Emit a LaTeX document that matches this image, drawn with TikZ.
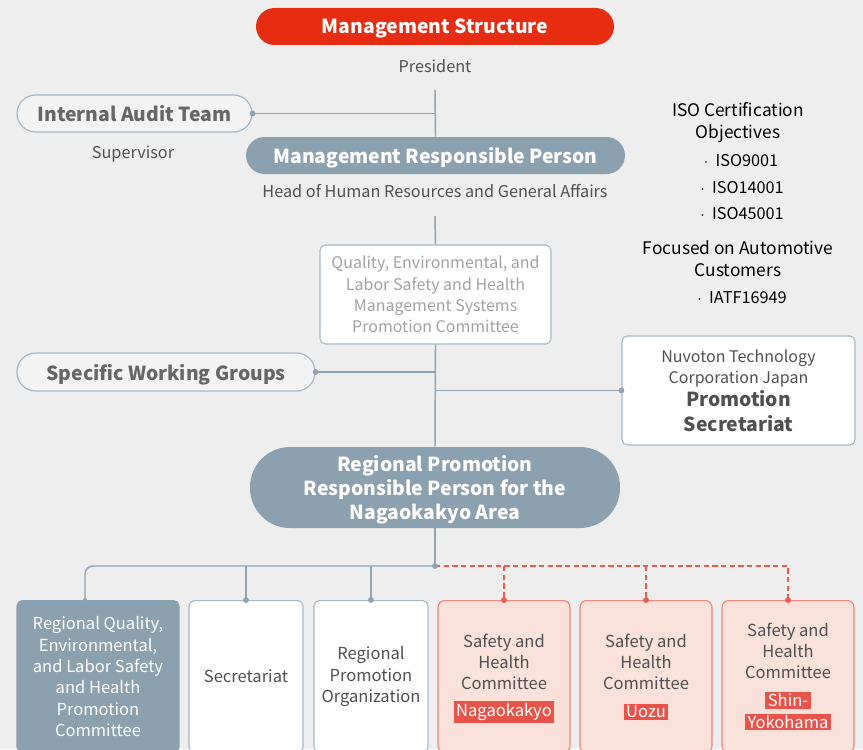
\documentclass[tikz,border=0pt]{standalone}
\usepackage{fontspec}
\setmainfont{Noto Sans CJK JP}
\usetikzlibrary{positioning}
\definecolor{bgc}{HTML}{EEEEEE}
\definecolor{titlered}{HTML}{E62D12}
\definecolor{slate}{HTML}{8CA1AF}
\definecolor{lineslate}{HTML}{8FA3B1}
\definecolor{edgeslate}{HTML}{A9B8C3}
\definecolor{txtgray}{HTML}{505050}
\definecolor{darkgray}{HTML}{666666}
\definecolor{lightgray}{HTML}{A3A3A3}
\definecolor{dashred}{HTML}{EE5A4C}
\definecolor{pinkfill}{HTML}{FAE1DA}
\definecolor{pinkedge}{HTML}{F0857A}
\definecolor{tagred}{HTML}{E8544A}
\begin{document}
\begin{tikzpicture}[x=0.75pt, y=-0.75pt,
  headbar/.style={fill=titlered, rounded corners=13.9pt, minimum width=268.5pt, minimum height=27.75pt, text=white, text depth=0pt, font=\bfseries\fontsize{14.5}{18}\selectfont},
  graypill/.style={fill=slate, rounded corners=13.9pt, minimum height=27.75pt, text=white, text depth=0pt, align=center, font=\bfseries\fontsize{14.5}{18}\selectfont},
  outpill/.style={draw=edgeslate, line width=0.9pt, fill=white!30!bgc, rounded corners=13.9pt, minimum height=27.75pt, text=darkgray, text depth=0pt, font=\bfseries\fontsize{14.5}{18}\selectfont},
  caption/.style={text=txtgray, font=\fontsize{12.2}{16}\selectfont},
  isotxt/.style={text=black, align=center, font=\fontsize{12.2}{16}\selectfont},
  isohead/.style={text=black, align=center, font=\fontsize{13}{16.5}\selectfont},
  plainbox/.style={draw=edgeslate, line width=0.8pt, fill=white, rounded corners=4pt, align=center, font=\fontsize{12}{16}\selectfont},
  unitbox/.style={plainbox, anchor=north, minimum height=114pt, inner sep=2pt, text=txtgray, font=\fontsize{12.4}{16}\selectfont},
  pinkbox/.style={draw=pinkedge, line width=0.8pt, fill=pinkfill, rounded corners=5pt, anchor=north, minimum height=114pt, minimum width=99pt},
  unittxt/.style={align=center, text=txtgray, font=\fontsize{12.4}{16}\selectfont},
  tag/.style={fill=tagred, text=white, inner xsep=2pt, inner ysep=1.5pt, font=\fontsize{12.4}{15}\selectfont},
  link/.style={draw=lineslate, line width=1.1pt},
  dashlink/.style={draw=dashred, line width=1.1pt, dash pattern=on 4pt off 2.5pt}]
  \fill[bgc] (0,0) rectangle (863,749);
  \clip (0,0) rectangle (863,749);
  \node[headbar] (title) at (435,26.5) {Management Structure};
  \node[caption] (president) at (435,66) {President};
  \node[outpill, minimum width=176.25pt] (audit) at (134.5,113.5) {Internal Audit Team};
  \node[caption] (supervisor) at (133,154) {Supervisor};
  \node[graypill, minimum width=284.25pt] (mgmt) at (435.5,155.5) {Management Responsible Person};
  \node[caption] (hrga) at (435,191) {Head of Human Resources and General Affairs};
  \node[plainbox, minimum width=173.25pt, minimum height=74.25pt, text=lightgray] (committee) at (435.5,294.5) {Quality, Environmental, and\\Labor Safety and Health\\Management Systems\\Promotion Committee};
  \node[outpill, minimum width=223.5pt, minimum height=28.5pt] (swg) at (166,372) {Specific Working Groups};
  \node[plainbox, minimum width=174.75pt, minimum height=81.75pt, text=txtgray, text depth=0pt] (nuvo) at (738.5,390.5) {Nuvoton Technology\\Corporation Japan\\[1pt]{\bfseries\fontsize{14.5}{18}\selectfont Promotion}\\[3pt]{\bfseries\fontsize{14.5}{18}\selectfont Secretariat}};
  \node[graypill, minimum width=277.5pt, minimum height=60.75pt, rounded corners=30pt] (region) at (435,487.5) {Regional Promotion\\Responsible Person for the\\Nagaokakyo Area};
  \node[isohead] (isoobj) at (738,123) {ISO Certification\\Objectives};
  \node[isotxt] (iso1) at (741,161) {$\cdot$\ \ ISO9001};
  \node[isotxt] (iso2) at (742,188) {$\cdot$\ \ ISO14001};
  \node[isotxt] (iso3) at (742,214) {$\cdot$\ \ ISO45001};
  \node[isohead] (auto) at (738,259) {Focused on Automotive\\Customers};
  \node[isotxt] (iatf) at (742,298) {$\cdot$\ \ IATF16949};
  \node[unitbox, fill=slate, draw=slate, text=white, minimum width=121.5pt] (rqcom) at (98,600) {Regional Quality,\\Environmental,\\and Labor Safety\\and Health\\Promotion\\Committee};
  \node[unitbox, minimum width=85.5pt] (secr) at (246,600) {Secretariat};
  \node[unitbox, minimum width=85.5pt] (rpo) at (371,600) {Regional\\Promotion\\Organization};
  \node[pinkbox] (safA) at (504,600) {};
  \node[pinkbox] (safB) at (646,600) {};
  \node[pinkbox] (safC) at (788,600) {};
  \node[unittxt] (safAtxt) at (504,662) {Safety and\\Health\\Committee};
  \node[unittxt] (safBtxt) at (646,662) {Safety and\\Health\\Committee};
  \node[unittxt] (safCtxt) at (788,651) {Safety and\\Health\\Committee};
  \node[tag] (tagA) at (504,712) {Nagaokakyo};
  \node[tag] (tagB) at (646,712) {Uozu};
  \node[tag, inner ysep=1pt] (tagC1) at (788,700.5) {Shin-};
  \node[tag, inner ysep=1pt] (tagC2) at (788,722) {Yokohama};
  \coordinate (top) at (435,90);
  \coordinate (mid) at (435,216);
  \coordinate (branch) at (435,566);
  \coordinate (rqdrop) at (85,600);
  \draw[link] (top) -- (mgmt.north);
  \draw[link] (audit.east) -- (audit.east -| top);
  \draw[link] (mid) -- (committee.north);
  \draw[link] (committee.south) -- (region.north);
  \draw[link] (swg.east) -- (swg.east -| region.north);
  \draw[link] (nuvo.west) -- (nuvo.west -| region.north);
  \draw[link] (region.south) -- (branch);
  \draw[link, rounded corners=6pt] (branch) -| (rqdrop);
  \draw[link] (branch -| secr.north) -- (secr.north);
  \draw[link] (branch -| rpo.north) -- (rpo.north);
  \draw[dashlink] (branch) -- (branch -| safC.north) -- (safC.north);
  \draw[dashlink] (branch -| safA.north) -- (safA.north);
  \draw[dashlink] (branch -| safB.north) -- (safB.north);
  \fill[lineslate] (audit.east) circle[radius=2.2pt];
  \fill[lineslate] (swg.east) circle[radius=2.2pt];
  \fill[lineslate] (nuvo.west) circle[radius=2.2pt];
  \fill[lineslate] (branch) circle[radius=2.2pt];
  \fill[lineslate] (rqdrop) circle[radius=1.6pt];
  \fill[lineslate] (secr.north) circle[radius=2.2pt];
  \fill[lineslate] (rpo.north) circle[radius=2.2pt];
  \fill[dashred] (safA.north) circle[radius=2.2pt];
  \fill[dashred] (safB.north) circle[radius=2.2pt];
  \fill[dashred] (safC.north) circle[radius=2.2pt];
\end{tikzpicture}
\end{document}
